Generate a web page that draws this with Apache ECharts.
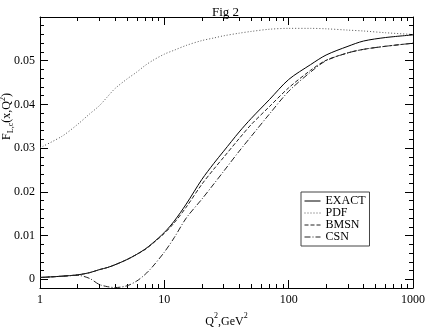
<!DOCTYPE html>
<html><head><meta charset="utf-8">
<script src="https://cdn.jsdelivr.net/npm/echarts@6/dist/echarts.min.js"></script>
<style>html,body{margin:0;padding:0;background:#fff}#c{width:426px;height:327px}</style>
</head><body><div id="c"></div>
<script>
var q2 = [1, 1.5, 2, 2.5, 3, 3.5, 4, 5, 6, 7, 8, 10, 12, 15, 20, 25, 30, 40, 50, 70, 100, 150, 200, 300, 400, 600, 1000];
var exact = [0.0004, 0.0007, 0.0010, 0.0015, 0.0022, 0.0027, 0.0033, 0.0045, 0.0057, 0.0069, 0.0082, 0.0107, 0.0133, 0.0172, 0.0228, 0.0265, 0.0293, 0.0337, 0.0368, 0.0411, 0.0457, 0.0491, 0.0513, 0.0533, 0.0545, 0.0553, 0.0559];
var pdf = [0.0301, 0.0327, 0.0354, 0.0378, 0.0397, 0.0418, 0.0436, 0.0458, 0.0474, 0.0489, 0.0500, 0.0515, 0.0524, 0.0535, 0.0546, 0.0552, 0.0557, 0.0563, 0.0567, 0.0572, 0.0574, 0.0574, 0.0573, 0.0570, 0.0568, 0.0564, 0.0560];
var bmsn = [0.0004, 0.0007, 0.0010, 0.0015, 0.0022, 0.0027, 0.0033, 0.0045, 0.0057, 0.0068, 0.0081, 0.0105, 0.0129, 0.0165, 0.0217, 0.0252, 0.0279, 0.0322, 0.0354, 0.0395, 0.0438, 0.0478, 0.0501, 0.0518, 0.0526, 0.0533, 0.0540];
var csn = [0.0004, 0.0007, 0.0009, 0.0002, -0.0012, -0.0017, -0.0019, -0.0015, -0.0004, 0.0011, 0.0028, 0.0062, 0.0095, 0.0140, 0.0183, 0.0218, 0.0247, 0.0293, 0.0327, 0.0378, 0.0430, 0.0474, 0.0500, 0.0518, 0.0526, 0.0533, 0.0540];
var seriesNames = ['EXACT', 'PDF', 'BMSN', 'CSN'];
var xMajor = [1, 10, 100, 1000];
var xMinor = [2,3,4,5,6,7,8,9,20,30,40,50,60,70,80,90,200,300,400,500,600,700,800,900];
var yMajor = [0, 0.01, 0.02, 0.03, 0.04, 0.05];
var yMinor = [-0.002, 0.002, 0.004, 0.006, 0.008, 0.012, 0.014, 0.016, 0.018, 0.022, 0.024, 0.026, 0.028, 0.032, 0.034, 0.036, 0.038, 0.042, 0.044, 0.046, 0.048, 0.052, 0.054, 0.056, 0.058];

function pairs(arr){ return q2.map(function(x,i){ return [x, arr[i]]; }); }
var FONT = 'Liberation Serif';
var axisLineStyle = {color:'#000', width:1};
function xAx(pos, ticks, len, showLabel, showLine){
  return {type:'log', logBase:10, min:1, max:1000, position:pos, gridIndex:0,
    axisLine:{show:showLine, onZero:false, lineStyle:axisLineStyle},
    axisTick:{show:true, inside:true, length:len, customValues:ticks, lineStyle:{color:'#000', width:1}},
    axisLabel:{show:showLabel, customValues:xMajor, color:'#000', fontFamily:FONT, fontSize:12, margin:6,
      formatter:function(v){ return String(Math.round(v)); }},
    splitLine:{show:false}, minorTick:{show:false}, minorSplitLine:{show:false}};
}
function yAx(pos, ticks, len, showLabel, showLine){
  return {type:'value', min:-0.002, max:0.06, position:pos, gridIndex:0,
    axisLine:{show:showLine, onZero:false, lineStyle:axisLineStyle},
    axisTick:{show:true, inside:true, length:len, customValues:ticks, lineStyle:{color:'#000', width:1}},
    axisLabel:{show:showLabel, customValues:yMajor, color:'#000', fontFamily:FONT, fontSize:12, margin:5,
      formatter:function(v){ return v === 0 ? '0' : v.toFixed(2); }},
    splitLine:{show:false}};
}
var xAxes = [xAx('bottom', xMajor, 8, true, true), xAx('bottom', xMinor, 4, false, false),
             xAx('top', xMajor, 8, false, true), xAx('top', xMinor, 4, false, false)];
xAxes[0].name = '{a|Q}{s|2}{a|,GeV}{s|2}';
xAxes[0].nameLocation = 'middle';
xAxes[0].nameGap = 24;
xAxes[0].nameMoveOverlap = false;
xAxes[0].nameTextStyle = {color:'#000', fontFamily:FONT, fontSize:12, rich:{
  a:{fontFamily:FONT, fontSize:12, color:'#000'},
  s:{fontFamily:FONT, fontSize:8, color:'#000', verticalAlign:'top', lineHeight:20}}};
var yAxes = [yAx('left', yMajor, 8, true, true), yAx('left', yMinor, 4, false, false),
             yAx('right', yMajor, 8, false, true), yAx('right', yMinor, 4, false, false)];
yAxes[0].name = '{a|F}{b|L,c}{a|(x,Q}{s|2}{a|)}';
yAxes[0].nameLocation = 'middle';
yAxes[0].nameGap = 25;
yAxes[0].nameMoveOverlap = false;
yAxes[0].nameTextStyle = {color:'#000', fontFamily:FONT, fontSize:12, padding:[0,0,0,72], rich:{
  a:{fontFamily:FONT, fontSize:12, color:'#000', lineHeight:14},
  b:{fontFamily:FONT, fontSize:8, color:'#000', verticalAlign:'bottom', lineHeight:12},
  s:{fontFamily:FONT, fontSize:8, color:'#000', verticalAlign:'top', lineHeight:16}}};

var styles = [
  {color:'#000', width:1, type:'solid'},
  {color:'#555', width:1, type:[1,2]},
  {color:'#222', width:1, type:[4,2]},
  {color:'#222', width:1, type:[6,2,1,2]}
];
var datas = [exact, pdf, bmsn, csn];
var series = seriesNames.map(function(n,i){
  return {name:n, type:'line', xAxisIndex:0, yAxisIndex:0, data:pairs(datas[i]), symbol:'none', smooth:0.3,
    lineStyle:styles[i], itemStyle:{color:styles[i].color}, animation:false, silent:true};
});

var chart = echarts.init(document.getElementById('c'), null, {renderer:'canvas'});
chart.setOption({
  animation:false,
  backgroundColor:'#fff',
  title:{text:'Fig 2', left:207, top:1, textStyle:{fontFamily:FONT, fontSize:13, fontWeight:'normal', color:'#000'}},
  grid:{left:40, right:13, top:17, bottom:39, containLabel:false, outerBoundsMode:'none'},
  legend:{data:seriesNames, orient:'vertical', left:301, top:192, itemWidth:16, itemHeight:8, itemGap:0,
    padding:[3,4,3,3], borderColor:'#444', borderWidth:1, backgroundColor:'#fff',
    itemStyle:{color:'rgba(0,0,0,0)', borderWidth:0, opacity:0},
    lineStyle:{width:1},
    textStyle:{fontFamily:FONT, fontSize:12, color:'#000', lineHeight:10.3}},
  xAxis:xAxes,
  yAxis:yAxes,
  series:series
});
</script></body></html>
